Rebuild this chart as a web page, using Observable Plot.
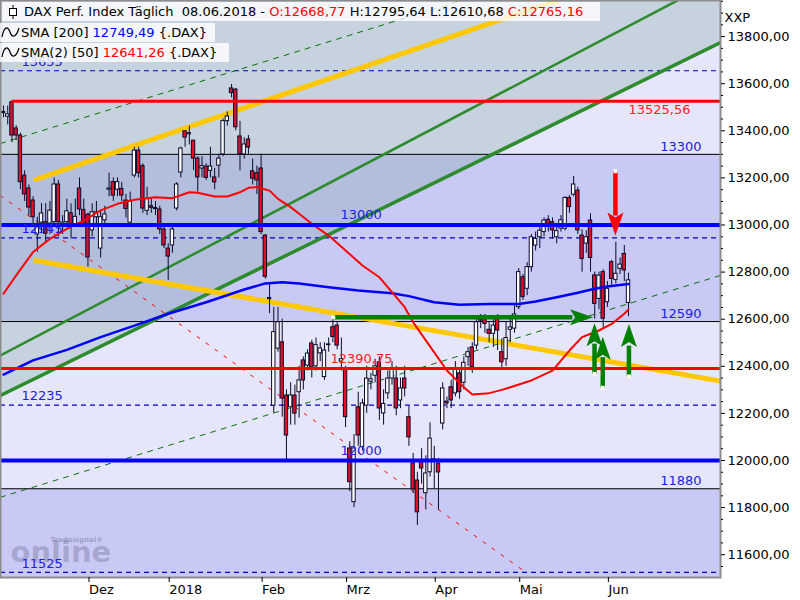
<!DOCTYPE html>
<html><head><meta charset="utf-8">
<script src="https://cdn.jsdelivr.net/npm/d3@7"></script>
<script src="https://cdn.jsdelivr.net/npm/@observablehq/plot@0.6"></script>
<style>
body{margin:0;background:#fff;font-family:"DejaVu Sans",sans-serif;}
#wrap{position:relative;width:800px;height:600px;overflow:hidden}
.row{position:absolute;height:19px;line-height:19px;font-size:13px;background:rgba(255,255,255,0.8);white-space:pre;color:#000}
.row svg{position:absolute;top:2px}
.red{color:#ff0000}.blue{color:#0000ff}
</style></head>
<body><div id="wrap"><div id="chart"></div><div id="legend"></div></div>
<script>
// ---- Daily candles (index 0 = first visible day, Nov 2017 ... 08.06.2018)
const open = [13475,13460,13521,13410,13380,13210,13155,13104,12960,13010,
13012,13006,13012,13172,13000,13012,13050,13000,13155,13064,
13044,12977,13033,12900,13020,13150,13182,13150,13153,13104,
13010,13210,13316,13250,13060,13080,13072,13066,12981,12900,
12913,13070,13223,13398,13385,13358,13282,13240,13248,13230,
13202,13252,13300,13441,13580,13575,13376,13300,13363,13228,
13220,13240,12955,12685,12233,12475,12502,12276,12226,12276,
12290,12425,12403,12497,12400,12455,12354,12490,12566,12573,
12420,12387,12051,11823,12226,12057,12233,12335,12360,12417,
12200,12285,12348,12348,12255,12348,12184,11988,11915,11993,
11861,11950,12000,11987,12157,12250,12311,12285,12370,12330,
12439,12480,12488,12608,12600,12555,12538,12601,12460,12430,
12555,12560,12651,12778,12729,12821,12913,12948,12970,13022,
13012,12948,12985,12984,13115,13129,13146,12955,12921,13019,
12786,12686,12800,12672,12842,12767,12814,12877,12668.77];
const high = [13505,13505,13526,13422,13390,13230,13170,13120,13033,13091,
13090,13100,13200,13190,13040,13110,13090,13110,13200,13110,
13050,13090,13100,13060,13080,13220,13200,13200,13180,13130,
13140,13330,13330,13260,13160,13110,13100,13080,13000,12920,
13000,13180,13330,13400,13420,13360,13290,13290,13260,13330,
13240,13300,13450,13480,13597,13580,13440,13370,13380,13280,
13250,13300,12960,12752,12650,12650,12600,12300,12330,12320,
12400,12440,12470,12510,12520,12500,12500,12520,12600,12590,
12520,12400,12080,12110,12290,12260,12400,12370,12430,12440,
12300,12380,12420,12400,12350,12400,12230,12030,11950,12050,
12020,12160,12060,12009,12330,12270,12340,12420,12390,12440,
12480,12500,12600,12620,12620,12590,12600,12620,12517,12590,
12610,12660,12815,12790,12840,12960,12970,12990,13030,13040,
13030,12990,13040,13120,13125,13206,13160,12980,12975,13048,
12800,12800,12810,12760,12850,12927,12860,12913,12795.64];
const low = [13455,13425,13350,13359,13150,13100,13040,12990,12884,12968,
12930,12960,12990,12950,12960,12990,12940,12990,13040,12990,
12821,12950,12990,12860,12990,13120,13100,13120,13100,13030,
13000,13200,13200,13050,13040,13050,13040,12960,12900,12764,
12880,13060,13200,13330,13340,13231,13140,13200,13190,13200,
13150,13200,13290,13420,13540,13400,13230,13280,13300,13170,
13130,12960,12770,12624,12200,12460,12184,12000,12150,12150,
12180,12300,12380,12350,12380,12420,12340,12460,12500,12470,
12380,12140,11868,11800,12060,12040,12200,12300,12330,12170,
12150,12260,12320,12190,12220,12270,12060,11860,11724,11900,
11790,11930,11880,11788,12130,12220,12220,12270,12260,12300,
12400,12370,12470,12560,12540,12500,12480,12467,12382,12400,
12500,12540,12640,12680,12700,12800,12890,12900,12950,12970,
12940,12920,12970,12975,13050,13120,12960,12800,12880,12800,
12600,12640,12560,12650,12740,12750,12790,12760,12610.68];
const close = [13480,13470,13380,13380,13182,13130,13074,13033,12990,13049,
12963,13061,13172,13012,13010,13058,13000,13035,13066,13000,
12862,13054,13054,13033,13045,13155,13125,13182,13125,13068,
13100,13316,13220,13070,13110,13073,13068,12981,12913,12866,
12981,13172,13325,13371,13390,13282,13202,13250,13200,13248,
13181,13282,13441,13461,13560,13415,13300,13342,13329,13197,
13189,12970,12780,12690,12545,12587,12263,12106,12276,12199,
12340,12340,12454,12395,12490,12476,12467,12493,12524,12488,
12430,12184,11908,12051,12106,12242,12348,12345,12400,12221,
12240,12348,12390,12221,12306,12306,12098,11877,11780,11966,
11945,12093,12005,11949,12306,12242,12255,12391,12290,12415,
12460,12396,12587,12594,12580,12538,12573,12552,12417,12520,
12565,12620,12800,12694,12821,12948,12941,12976,13019,12998,
12977,12974,13020,13115,13076,13172,12977,12856,12948,12860,
12665,12785,12602,12729,12771,12793,12832,12807,12765.16];

// ---- Moving averages (day index, value)
const sma200Idx = [0,7,15,23,31,39,48,57,62,66,70,77,84,92,96,102,108,115,122,126,131,136,140,143,148];
const sma200Val = [12365,12425,12470,12524,12573,12623,12672,12726,12752,12757,12752,12736,12722,12710,12698,12672,12661,12665,12665,12675,12693,12712,12729,12739,12749.49];
const sma50Idx = [0,3,7,11,15,19,23,27,31,36,40,44,46,50,53,56,58,60,63,65,68,70,73,77,81,85,89,92,95,97,100,105,109,111,115,118,120,125,130,134,137,141,144,147,148];
const sma50Val = [12708,12786,12885,12941,12984,13019,13062,13090,13107,13118,13114,13139,13137,13121,13121,13139,13158,13161,13146,13111,13076,13048,13005,12955,12892,12828,12778,12715,12651,12587,12510,12382,12311,12280,12286,12300,12311,12340,12382,12467,12524,12552,12580,12623,12641.26];

// ---- Horizontal levels
const blueSolidLevels = [13000, 12000];
const blueDashedLevels = [13655, 12945, 12235, 11525];
const blackLevels = [13300, 12590, 11880];
const redLevels = [13525.56, 12390.75];
const redLevelStartIdx = [2, null];

// ---- Trend lines: two anchor points each (day index, value)
const trendNames = ["greenDashUpper","greenDashLower","redDash","greenUpper","greenLower","yellowUpper","yellowLower"];
const trendIdx1 = [-0.71, -0.71, -0.71, -0.71, -0.71, 7.58, 7.58];
const trendVal1 = [13346, 11844, 13125, 12446, 12276, 13193, 12849];
const trendIdx2 = [108.45, 169.78, 124.08, 159.53, 169.78, 130.95, 169.78];
const trendVal2 = [13953, 12786, 11520, 13953, 13775, 13953, 12337];

// ---- Annotation arrows (tail, head base, tip) in day index / value
const arrowDir   = ["right","up","up","up","down"];
const arrowTailI = [78.1, 139.95, 141.9, 148.1, 144.9];
const arrowTailV = [12608, 12368, 12309, 12357, 13228];
const arrowBaseI = [134.7, 139.95, 141.9, 148.1, 144.9];
const arrowBaseV = [12608, 12496, 12439, 12488, 13040];
const arrowTipI  = [139.6, 139.95, 141.9, 148.1, 144.9];
const arrowTipV  = [12608, 12583, 12526, 12580, 12955];
const arrowColor = ["#008000","#008000","#008000","#008000","#ff0000"];

// ---- Axis ticks
const xTickIdx = [20, 39, 61, 81, 102, 122, 143];
const xTickLabels = ["Dez","2018","Feb","Mrz","Apr","Mai","Jun"];
const yTicks = [11600,11800,12000,12200,12400,12600,12800,13000,13200,13400,13600,13800];

// ---- build tables
const XMIN = -0.71, XMAX = 169.78, YMIN = 11503.2, YMAX = 13953.3;
const fmt = v => v.toFixed(2).replace(".", ",");
const candles = open.map((o, i) => ({i, o, h: high[i], l: low[i], c: close[i]}));
const sma200 = sma200Idx.map((k, j) => ({k, v: sma200Val[j]}));
const sma50 = sma50Idx.map((k, j) => ({k, v: sma50Val[j]}));
const trendStyle = {
  greenDashUpper: {stroke: "#0a6e0a", strokeWidth: 1, strokeDasharray: "5,6"},
  greenDashLower: {stroke: "#0a6e0a", strokeWidth: 1, strokeDasharray: "5,6"},
  redDash: {stroke: "#ff0000", strokeWidth: 1, strokeDasharray: "3,8"},
  greenUpper: {stroke: "#2e8b2e", strokeWidth: 2.5},
  greenLower: {stroke: "#2e8b2e", strokeWidth: 3.5},
  yellowUpper: {stroke: "#ffc800", strokeWidth: 5},
  yellowLower: {stroke: "#ffc800", strokeWidth: 5}
};
const trends = trendNames.map((n, j) => ({n, pts: [{k: trendIdx1[j], v: trendVal1[j]}, {k: trendIdx2[j], v: trendVal2[j]}]}));
const lowerGreen = trends.find(t => t.n === "greenLower").pts.map(p => ({k: p.k, v: p.v, top: YMAX}));
const bandBounds = [YMAX, ...blackLevels, YMIN];
const bands = bandBounds.slice(1).map((b, j) => ({y1: b, y2: bandBounds[j], fill: j % 2 ? "#c9c9f6" : "#e6e6fa"}));
const reds = redLevels.map((v, j) => ({v, from: redLevelStartIdx[j] ?? XMIN}));
const arrows = arrowDir.map((d, j) => ({d, ti: arrowTailI[j], tv: arrowTailV[j], bi: arrowBaseI[j], bv: arrowBaseV[j], pi: arrowTipI[j], pv: arrowTipV[j], color: arrowColor[j]}));
const minorTicks = d3.range(11550, 13951, 50).filter(v => !yTicks.includes(v));

const head = {
  up: {draw(c) { c.moveTo(0,0); c.lineTo(8,23); c.lineTo(0,18); c.lineTo(-8,23); c.closePath(); }},
  down: {draw(c) { c.moveTo(0,0); c.lineTo(8,-23); c.lineTo(0,-18); c.lineTo(-8,-23); c.closePath(); }},
  right: {draw(c) { c.moveTo(0,0); c.lineTo(-23,-8); c.lineTo(-18,0); c.lineTo(-23,8); c.closePath(); }}
};
const RED = "#e0102c", INK = "#0a0a2a";

const marks = [
  Plot.rect(bands, {y1: "y1", y2: "y2", fill: "fill"}),
  Plot.areaY(lowerGreen, {x: "k", y1: "v", y2: "top", fill: "#7fa5a0", fillOpacity: 0.3}),
  Plot.text(["online"], {text: d => d, frameAnchor: "bottom-left", dx: 10, dy: -16, fontSize: 29, fontWeight: "bold", fill: "#5c5c78", fillOpacity: 0.33, textAnchor: "start"}),
  Plot.text(["Tradesignal®"], {text: d => d, frameAnchor: "bottom-left", dx: 50, dy: -36, fontSize: 7, fontWeight: "bold", fill: "#5c5c78", fillOpacity: 0.4, textAnchor: "start"}),
  Plot.ruleY(blackLevels, {stroke: "#000", strokeWidth: 1}),
  Plot.ruleY(blueDashedLevels, {stroke: "#0000cc", strokeWidth: 1.2, strokeDasharray: "5,4"}),
  ...trends.map(t => Plot.line(t.pts, {x: "k", y: "v", clip: true, ...trendStyle[t.n]})),
  Plot.ruleX(candles, {x: "i", y1: "l", y2: "h", stroke: INK, strokeWidth: 1}),
  Plot.rect(candles, {x1: d => d.i - 0.4, x2: d => d.i + 0.4, y1: d => Math.min(d.o, d.c), y2: d => Math.max(d.o, d.c), fill: d => d.c < d.o ? RED : "#ffffff", stroke: INK, strokeWidth: 1}),
  Plot.line(sma200, {x: "k", y: "v", stroke: "#0000ff", strokeWidth: 2.5}),
  Plot.line(sma50, {x: "k", y: "v", stroke: "#ff0000", strokeWidth: 2}),
  Plot.ruleY(blueSolidLevels, {stroke: "#0000ff", strokeWidth: 4}),
  Plot.ruleY(reds, {y: "v", x1: "from", x2: () => XMAX, stroke: "#ff0000", strokeWidth: 3}),
  Plot.text(blueSolidLevels, {y: d => d, text: d => String(d), frameAnchor: "left", dx: 340, dy: -10, textAnchor: "start", fill: "#2020e8", fontSize: 13}),
  Plot.text(blueDashedLevels, {y: d => d, text: d => String(d), frameAnchor: "left", dx: 21, dy: -9, textAnchor: "start", fill: "#2020e8", fontSize: 13}),
  Plot.text(blackLevels, {y: d => d, text: d => String(d), frameAnchor: "right", dx: -19, dy: -8, textAnchor: "end", fill: "#2020e8", fontSize: 13}),
  Plot.text(reds.slice(0,1), {y: "v", text: d => fmt(d.v), frameAnchor: "right", dx: -30, dy: 9, textAnchor: "end", fill: "#ff2020", fontSize: 13}),
  Plot.text(reds.slice(1), {y: "v", text: d => fmt(d.v), frameAnchor: "left", dx: 330, dy: -10, textAnchor: "start", fill: "#ff2020", fontSize: 13}),
  Plot.link(arrows, {x1: "ti", y1: "tv", x2: "bi", y2: "bv", stroke: "color", strokeWidth: 4.5}),
  ...["up","down","right"].map(dir => Plot.dot(arrows.filter(a => a.d === dir), {x: "pi", y: "pv", symbol: head[dir], r: 6, fill: "color", stroke: "none"})),
  Plot.dot(arrows, {x: "ti", y: "tv", symbol: "square", r: 2.2, fill: "#fffff0", stroke: "none"}),
  Plot.frame({stroke: "#8c8c8c", strokeWidth: 2}),
  Plot.axisY(yTicks, {anchor: "right", tickSize: 4, tickPadding: 3, tickFormat: fmt, fontSize: 13, label: null}),
  Plot.axisY(minorTicks, {anchor: "right", tickSize: 2, tickFormat: () => "", label: null}),
  Plot.axisX(xTickIdx, {anchor: "bottom", tickSize: 5, tickPadding: 2, tickFormat: d => xTickLabels[xTickIdx.indexOf(d)], textAnchor: "start", dx: 1, fontSize: 13, label: null}),
  Plot.text(["XXP"], {text: d => d, frameAnchor: "top-right", dx: 4, dy: 12, textAnchor: "start", fontSize: 13, fill: "#000"})
];

const chart = Plot.plot({
  width: 800, height: 600,
  marginLeft: 0, marginTop: 0, marginRight: 80, marginBottom: 23,
  x: {domain: [XMIN, XMAX], label: null},
  y: {domain: [YMIN, YMAX], label: null},
  style: {fontFamily: "'DejaVu Sans', sans-serif", fontSize: "13px", background: "#fff", color: "#000"},
  marks
});
document.getElementById("chart").appendChild(chart);

// ---- legend (from data)
const last = candles[candles.length - 1];
const candleIcon = '<svg width="14" height="16" style="left:4px"><line x1="7" y1="1" x2="7" y2="15" stroke="#000"/><rect x="3.5" y="4.5" width="7" height="7" fill="#fff" stroke="#000"/></svg>';
const waveIcon = '<svg width="20" height="15" style="left:1px"><path d="M1,12 C3,1 7,1 9,7 C11,13 15,13 18,3" fill="none" stroke="#000" stroke-width="1.2"/></svg>';
document.getElementById("legend").innerHTML =
  `<div class="row" style="left:2px;top:2px;width:598px">${candleIcon}<span style="position:absolute;left:22px">DAX Perf. Index Täglich  08.06.2018 - <span class="red">O:${fmt(last.o)}</span> H:${fmt(last.h)} L:${fmt(last.l)} <span class="red">C:${fmt(last.c)}</span></span></div>` +
  `<div class="row" style="left:0;top:23px;width:215px">${waveIcon}<span style="position:absolute;left:21px">SMA [200] <span class="blue">${fmt(sma200Val[sma200Val.length-1])}</span> {.DAX}</span></div>` +
  `<div class="row" style="left:0;top:43px;width:229px">${waveIcon}<span style="position:absolute;left:21px">SMA(2) [50] <span class="red">${fmt(sma50Val[sma50Val.length-1])}</span> {.DAX}</span></div>`;
</script></body></html>
